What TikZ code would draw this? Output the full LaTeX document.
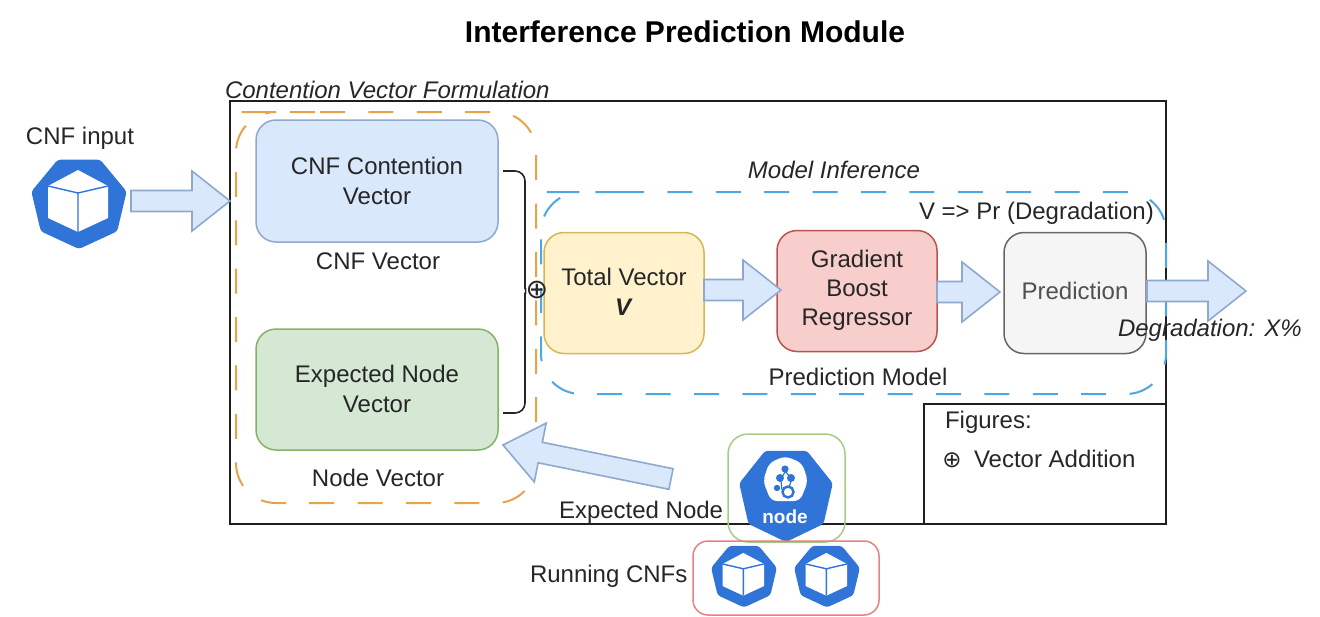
\documentclass[tikz,border=0pt]{standalone}
\usepackage{fontspec}
\setmainfont{Liberation Sans}
\newfontfamily\symfont{DejaVu Sans}
\usetikzlibrary{calc}
\definecolor{kblue}{HTML}{2F74D6}
\definecolor{txt}{HTML}{262626}
\definecolor{arrowfill}{HTML}{DAE8FC}
\definecolor{arrowline}{HTML}{8FA8CE}
\definecolor{grnfill}{HTML}{D5E8D4}
\definecolor{grnline}{HTML}{82B366}
\definecolor{yelfill}{HTML}{FFF2CC}
\definecolor{yelline}{HTML}{D6B656}
\definecolor{redfill}{HTML}{F8CECC}
\definecolor{redline}{HTML}{B85450}
\definecolor{gryfill}{HTML}{F5F5F5}
\definecolor{gryline}{HTML}{666666}
\definecolor{grytxt}{HTML}{505050}
\definecolor{orgdash}{HTML}{E8A24A}
\definecolor{bludash}{HTML}{4FA6E0}
\definecolor{nodegrn}{HTML}{A6CC84}
\definecolor{runred}{HTML}{E88080}
\newcommand{\kheptagon}[1]{(90:#1)--(141.43:#1)--(192.86:#1)--(244.29:#1)--(295.71:#1)--(347.14:#1)--(398.57:#1)--cycle}
\tikzset{
  x=1pt,y=-1pt,
  every node/.style={text=txt,font=\fontsize{24}{30}\selectfont,inner sep=0pt,outer sep=0pt},
  box/.style={draw=#1,line width=1.5pt,rounded corners=20pt,align=center},
  dashgroup/.style={draw=#1,line width=2pt,rounded corners=40pt,dash pattern=on 25pt off 23.4pt},
  it/.style={font=\fontsize{24}{30}\selectfont\itshape},
  blockarrow/.style={draw=arrowline,fill=arrowfill,line width=1.6pt,line join=miter,
    to path={
      ($(\tikztostart)!10.5pt!90:(\tikztotarget)$)
      -- ($($(\tikztotarget)!38pt!(\tikztostart)$)!10.5pt!90:(\tikztotarget)$)
      -- ($($(\tikztotarget)!38pt!(\tikztostart)$)!30pt!90:(\tikztotarget)$)
      -- (\tikztotarget)
      -- ($($(\tikztotarget)!38pt!(\tikztostart)$)!30pt!-90:(\tikztotarget)$)
      -- ($($(\tikztotarget)!38pt!(\tikztostart)$)!10.5pt!-90:(\tikztotarget)$)
      -- ($(\tikztostart)!10.5pt!-90:(\tikztotarget)$)
      -- cycle}},
  cnficon/.pic={
    \fill[kblue,rounded corners=3pt,xscale=1.04] \kheptagon{47};
    \fill[white,line join=round] (-1,-32)--(-31,-16)--(-31,16)--(-1,30)--(29,16)--(29,-16)--cycle;
    \draw[kblue,line width=1.4pt] (-31,-16)--(-1,-9)--(29,-16) (-1,-9)--(-1,30);
  },
}
\begin{document}
\begin{tikzpicture}
\useasboundingbox (0,0) rectangle (1320,616);
% frame
\draw[line width=2.2pt,black!88] (230,101) rectangle (1166,524);
\draw[line width=2.2pt,black!88] (924,524) -- (924,404) -- (1166,404);
% dashed groups
\draw[dashgroup=orgdash] (280,112) -- (536,112) -- (536,503) -- (236,503) -- (236,112) -- cycle;
\draw[dashgroup=bludash] (579,192) -- (1166,192) -- (1166,394) -- (541,394) -- (541,192) -- cycle;
% boxes
\node[box=arrowline,fill=arrowfill,minimum width=242pt,minimum height=122pt] (cnf) at (377,181) {CNF Contention\\[0pt]Vector};
\node[box=grnline,fill=grnfill,minimum width=242pt,minimum height=121pt] (exp) at (377,389.5) {};
\node[align=center] (explbl) at (377,389) {Expected Node\\[0pt]Vector};
\node[box=yelline,fill=yelfill,minimum width=160pt,minimum height=121pt] (total) at (624,293) {};
\node[align=center] (totallbl) at (624,292) {Total Vector\\[0pt]\textbf{\textit{V}}};
\node[box=redline,fill=redfill,minimum width=160pt,minimum height=121pt] (grad) at (857,291) {};
\node[align=center] (gradlbl) at (857,290) {Gradient\\[-1pt]Boost\\[-1pt]Regressor};
\node[box=gryline,fill=gryfill,minimum width=142pt,minimum height=121pt] (pred) at (1075,293) {};
\node[text=grytxt] (predlbl) at (1075,291) {Prediction};
% brace and addition
\node[font=\fontsize{27}{27}\selectfont\symfont] (plus) at (537,290) {⊕};
\coordinate (bt) at (503,171);
\coordinate (bb) at (503,413);
\draw[line width=1.6pt,black!85,rounded corners=10pt] (bt) -- (525,171) -- (525,279) .. controls (525,286) and (526,290) .. (plus.west);
\draw[line width=1.6pt,black!85,rounded corners=10pt] (plus.west) .. controls (526,292) and (525,296) .. (525,303) -- (525,413) -- (bb);
% block arrows
\coordinate (inA) at (131,201);
\coordinate (inB) at (230,201);
\draw[blockarrow] (inA) to (inB);
\coordinate (tA) at (704,290);
\coordinate (tB) at (781,290);
\draw[blockarrow] (tA) to (tB);
\coordinate (gA) at (937,292);
\coordinate (gB) at (1000,292);
\draw[blockarrow] (gA) to (gB);
\coordinate (pA) at (1147,291);
\coordinate (pB) at (1246,291);
\draw[blockarrow] (pA) to (pB);
\coordinate (nA) at (671,479);
\coordinate (nB) at (503,445);
\draw[blockarrow] (nA) to (nB);
% input icon
\pic at (79,202) {cnficon};
% node box and icon
\draw[line width=1.5pt,nodegrn,rounded corners=20pt] (728,434) rectangle (845,542);
\begin{scope}[shift={(786,494)}]
  \fill[kblue,rounded corners=3pt] \kheptagon{48};
  \fill[white,rounded corners=6pt] (-1,-38)--(16,-31)--(22,-13)--(14,7)--(-15,7)--(-23,-13)--(-17,-31)--cycle;
  \fill[kblue] (-1,-25) circle (3.6) (-6,-16) circle (4) (5,-16) circle (4) (-9,-6) circle (3.2);
  \draw[kblue,line width=2.4pt] (2,-2) circle (5.5);
  \draw[kblue,line width=1.2pt] (-4,-4) -- (-5,-13) (-1,-22) -- (-4,-17) (0,-22) -- (4,-17) (5,-13) -- (3,-6);
\end{scope}
\node[text=white,font=\fontsize{19}{19}\selectfont\bfseries] (nodetxt) at (785,517) {node};
% running box
\draw[line width=1.5pt,runred,rounded corners=15pt] (693,541) rectangle (879,615);
\pic[scale=0.69] at (744,575) {cnficon};
\pic[scale=0.69] at (827,575) {cnficon};
% labels
\node[font=\fontsize{30}{34}\selectfont\bfseries,text=black] (title) at (685,32) {Interference Prediction Module};
\node (cnfinput) at (80,138) {CNF input};
\node[it,anchor=west] (cvf) at (225,90) {Contention Vector Formulation};
\node (cnfv) at (378,261) {CNF Vector};
\node (nodev) at (378,478) {Node Vector};
\node[it] (mi) at (834,170) {Model Inference};
\node[anchor=west] (vpr) at (919,213) {V => Pr (Degradation)};
\node (pm) at (858,377) {Prediction Model};
\node[it,anchor=west] (deg) at (1118,330) {Degradation: X\%};
\node[anchor=west] (fig) at (945,422) {Figures:};
\node[font=\fontsize{23}{23}\selectfont\symfont] (figsym) at (952,460) {⊕};
\node[anchor=west] (va) at (974,459) {Vector Addition};
\node[anchor=west] (en) at (559,512) {Expected Node};
\node[anchor=west] (rc) at (530,576) {Running CNFs};
\end{tikzpicture}
\end{document}
